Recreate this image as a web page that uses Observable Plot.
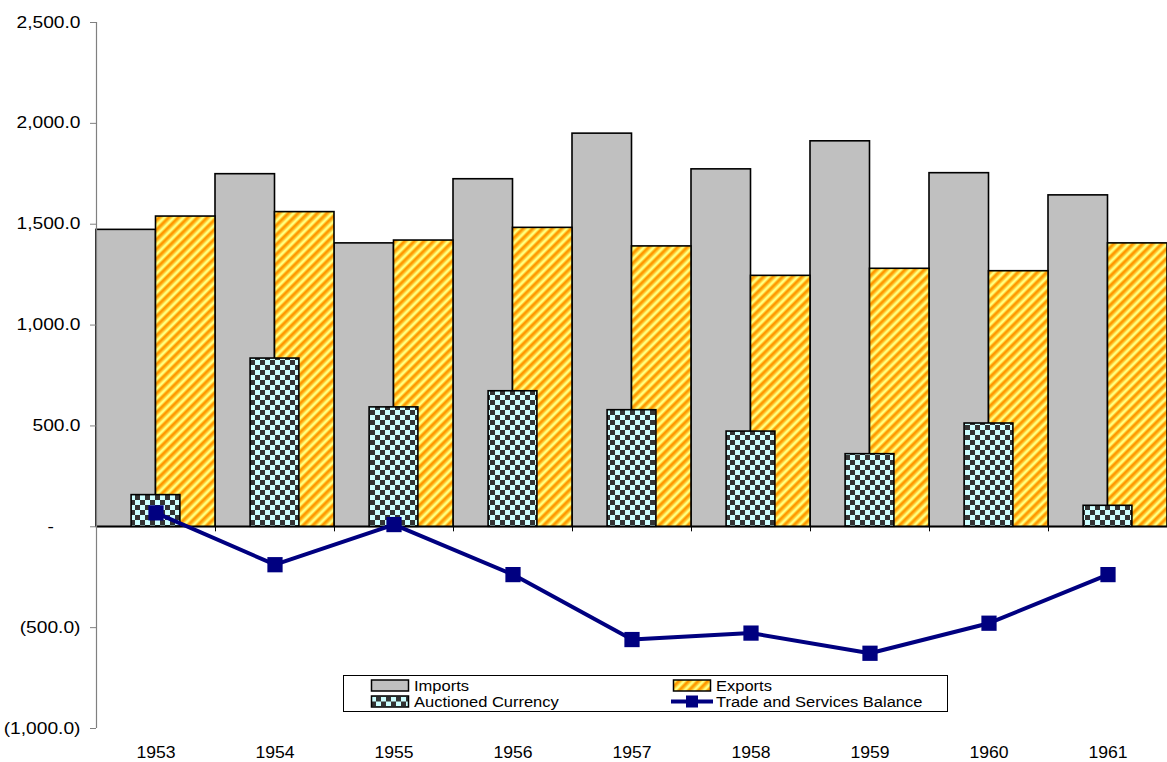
<!DOCTYPE html>
<html>
<head>
<meta charset="utf-8">
<script src="https://cdn.jsdelivr.net/npm/d3@7"></script>
<script src="https://cdn.jsdelivr.net/npm/@observablehq/plot@0.6"></script>
<style>
  body { margin: 0; background: #fff; }
  #wrap { position: relative; width: 1167px; height: 762px; font-family: "Liberation Sans", Arial, sans-serif; }
  #legend { position: absolute; left: 343px; top: 675px; }
</style>
</head>
<body>
<div id="wrap"></div>
<script>
// ---- data ----
const years = [1953, 1954, 1955, 1956, 1957, 1958, 1959, 1960, 1961];
const imports = [1472, 1748, 1405, 1723, 1949, 1772, 1911, 1753, 1643];
const exports = [1538, 1560, 1419, 1482, 1390, 1244, 1279, 1267, 1405];
const auctioned = [157, 834, 592, 672, 578, 472, 360, 512, 104];
const balance = [69, -188, 11, -237, -559, -527, -627, -478, -237];
const yTicks = [-1000, -500, 0, 500, 1000, 1500, 2000, 2500];
const seriesNames = ["Imports", "Exports", "Auctioned Currency", "Trade and Services Balance"];

const table = years.map((y, i) => ({
  year: y, imports: imports[i], exports: exports[i], auctioned: auctioned[i], balance: balance[i]
}));
const bounds = years.map(y => y - 0.5).concat([years[years.length - 1] + 0.5]);

const num = d3.format(",.1f");
const fmt = d => d === 0 ? "-\u2007\u2008\u2007" : d < 0 ? `(${num(-d)})` : num(d);

const navy = "#000080";
const font = "Liberation Sans, Arial, sans-serif";

const chart = Plot.plot({
  width: 1167,
  height: 762,
  marginLeft: 96,
  marginRight: 0,
  marginTop: 22,
  marginBottom: 34,
  style: { fontFamily: font, fontSize: "16px", color: "#000", background: "#fff" },
  x: { domain: [bounds[0], bounds[bounds.length - 1]] },
  y: { domain: [yTicks[0], yTicks[yTicks.length - 1]] },
  marks: [
    Plot.rectY(table, { x1: d => d.year - 0.5, x2: "year", y1: 0, y2: "imports",
      fill: "#C0C0C0", stroke: "#000", strokeWidth: 1.6 }),
    Plot.rectY(table, { x1: "year", x2: d => d.year + 0.5, y1: 0, y2: "exports",
      fill: "url(#stripes)", stroke: "#000", strokeWidth: 1.6 }),
    Plot.rectY(table, { x1: d => d.year - 0.205, x2: d => d.year + 0.205, y1: 0, y2: "auctioned",
      fill: "url(#checker)", stroke: "#000", strokeWidth: 1.6 }),
    Plot.ruleY([0], { stroke: "#000", strokeWidth: 1.5 }),
    Plot.ruleX(bounds, { y1: 0, y2: -25, stroke: "#000", strokeWidth: 1 }),
    Plot.ruleX([bounds[0]], { y1: yTicks[0], y2: yTicks[yTicks.length - 1], stroke: "#808080", strokeWidth: 1.2 }),
    Plot.axisY({ ticks: yTicks, tickSize: 6, tickPadding: 10, stroke: "#808080", tickFormat: fmt,
      fontSize: 16, fill: "#000", label: null }),
    Plot.axisX({ ticks: years, tickSize: 0, tickPadding: 18, tickFormat: d => String(d),
      fontSize: 16, fill: "#000", label: null }),
    Plot.line(table, { x: "year", y: "balance", stroke: navy, strokeWidth: 4 }),
    Plot.dot(table, { x: "year", y: "balance", symbol: "square", r: 8.6, fill: navy, stroke: "none" })
  ]
});

// patterns
const defs = d3.select(chart).insert("defs", ":first-child");
const st = defs.append("pattern").attr("id", "stripes").attr("patternUnits", "userSpaceOnUse")
  .attr("width", 6.8).attr("height", 6.8).attr("patternTransform", "rotate(45)");
st.append("rect").attr("width", 6.8).attr("height", 6.8).attr("fill", "#FFFF80");
st.append("rect").attr("x", 0).attr("width", 2.7).attr("height", 6.8).attr("fill", "#FF9900");
st.append("rect").attr("x", 2.7).attr("width", 0.9).attr("height", 6.8).attr("fill", "#FFCC33");
st.append("rect").attr("x", 5.9).attr("width", 0.9).attr("height", 6.8).attr("fill", "#FFCC33");
const ck = defs.append("pattern").attr("id", "checker").attr("patternUnits", "userSpaceOnUse")
  .attr("width", 10).attr("height", 10);
ck.append("rect").attr("width", 10).attr("height", 10).attr("fill", "#CCFFFF");
ck.append("rect").attr("x", 0).attr("y", 0).attr("width", 5).attr("height", 5).attr("fill", "#333333");
ck.append("rect").attr("x", 5).attr("y", 5).attr("width", 5).attr("height", 5).attr("fill", "#333333");

// horizontally stretched tick labels, as rendered in the reference
function stretch(root, sel, k) {
  d3.select(root).selectAll(sel).each(function () {
    const t = this.getAttribute("transform");
    if (t) {
      this.setAttribute("transform", t + ` scale(${k},1)`);
    } else {
      const x = +this.getAttribute("x") || 0, y = +this.getAttribute("y") || 0;
      this.setAttribute("x", 0); this.setAttribute("y", 0);
      this.setAttribute("transform", `translate(${x},${y}) scale(${k},1)`);
    }
  });
}
stretch(chart, 'g[aria-label="y-axis tick label"] text', 1.2);
stretch(chart, 'g[aria-label="x-axis tick label"] text', 1.1);

const wrap = document.getElementById("wrap");
wrap.appendChild(chart);

// legend (overlaid inside plot area, as in the reference)
const lg = d3.select(wrap).append("svg").attr("id", "legend")
  .attr("width", 606).attr("height", 38).style("font-family", font);
lg.append("rect").attr("x", 0.5).attr("y", 0.5).attr("width", 604).attr("height", 36)
  .attr("fill", "#fff").attr("stroke", "#000").attr("stroke-width", 1);
const items = [
  { name: seriesNames[0], col: 0, row: 0, kind: "rect", fill: "#C0C0C0" },
  { name: seriesNames[1], col: 1, row: 0, kind: "rect", fill: "url(#stripes)" },
  { name: seriesNames[2], col: 0, row: 1, kind: "rect", fill: "url(#checker)" },
  { name: seriesNames[3], col: 1, row: 1, kind: "line" }
];
const colX = [28, 330];
const rowY = [10.5, 26.5];
for (const it of items) {
  const g = lg.append("g").attr("transform", `translate(${colX[it.col]},${rowY[it.row]})`);
  if (it.kind === "rect") {
    g.append("rect").attr("x", 0.5).attr("y", -5.5).attr("width", 37).attr("height", 11)
      .attr("fill", it.fill).attr("stroke", "#000").attr("stroke-width", 1.5);
  } else {
    g.append("line").attr("x1", -2).attr("x2", 40).attr("y1", 0).attr("y2", 0)
      .attr("stroke", navy).attr("stroke-width", 4);
    g.append("rect").attr("x", 13).attr("y", -6).attr("width", 12).attr("height", 12).attr("fill", navy);
  }
  g.append("text").attr("transform", "translate(43,0) scale(1.1,1)").attr("dy", "0.36em")
    .attr("font-size", 15).attr("fill", "#000").text(it.name);
}
</script>
</body>
</html>
